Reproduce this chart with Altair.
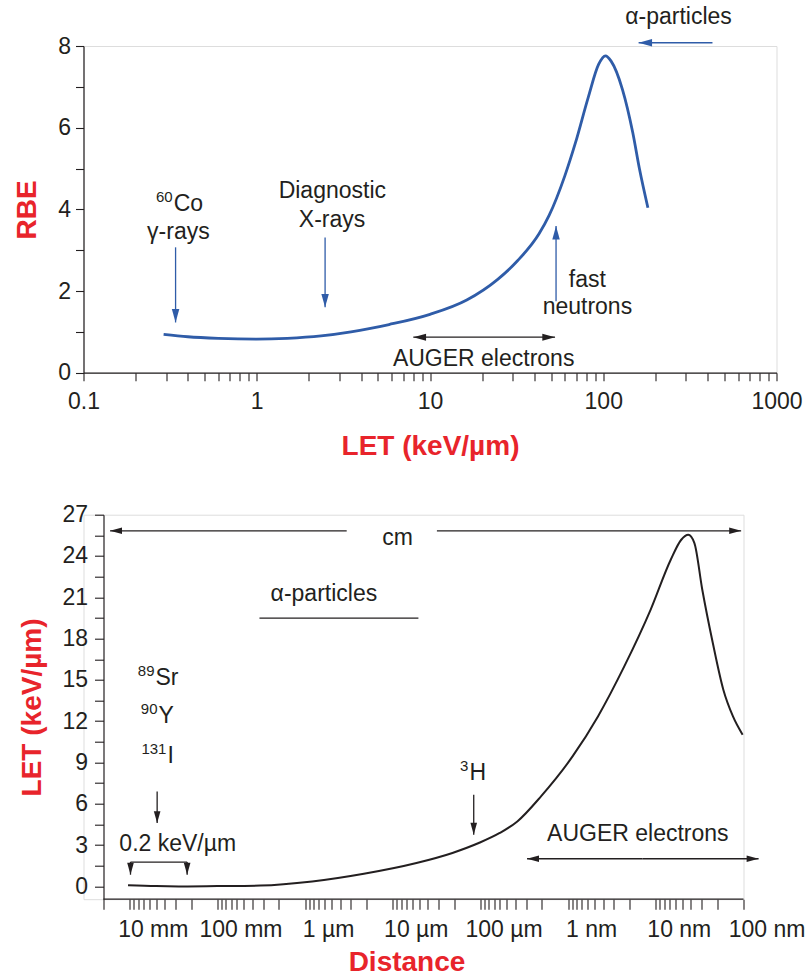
import json
import math
import altair as alt
import pandas as pd

FONT = "Liberation Sans, Arial, Helvetica, sans-serif"
INK = "#231f20"
RED = "#e8242b"
BLUE = "#2f5ca8"
HEAD = "M0,0L-1,-3.6L1,-3.6Z"

# ---------------- top panel: RBE vs LET ----------------
top_let = [0.29, 0.4, 0.6, 1.0, 1.5, 2.35, 3.5, 5.8, 10, 16.3, 24.5, 32, 42.6, 48.7,
           60, 69, 82, 94, 103, 111, 129, 148, 162, 181]
top_rbe = [0.94, 0.88, 0.84, 0.82, 0.84, 0.90, 1.0, 1.18, 1.43, 1.78, 2.28, 2.74, 3.4, 3.85,
           4.82, 5.62, 6.75, 7.55, 7.76, 7.63, 6.94, 5.88, 4.98, 4.04]

top_text = ["γ-rays", "Diagnostic", "X-rays", "fast", "neutrons", "AUGER electrons", "α-particles"]
top_text_x = [0.353, 2.73, 2.72, 81, 81, 20.4, 272]
top_text_y = [3.265, 4.27, 3.58, 2.11, 1.43, 0.16, 8.53]

top_iso = ["Co"]
top_iso_mass = ["60"]
top_iso_x = [0.327]
top_iso_y = [3.95]

# blue arrows (tail -> tip)
top_blue_x0 = [0.34, 2.48, 53.4, 427]
top_blue_y0 = [3.07, 3.31, 1.75, 8.08]
top_blue_x1 = [0.34, 2.48, 53.4, 160]
top_blue_y1 = [1.23, 1.6, 3.59, 8.08]
# black double arrow (AUGER electrons)
top_black_x0 = [20.5, 20.5]
top_black_y0 = [0.87, 0.87]
top_black_x1 = [8.01, 52.7]
top_black_y1 = [0.87, 0.87]

top_ticks = [m * 10.0 ** e for e in range(-1, 3) for m in range(1, 10)] + [1000.0]
top_yticks = [0, 1, 2, 3, 4, 5, 6, 7, 8]

# ---------------- bottom panel: LET vs distance ----------------
dist_labels = ["10 mm", "100 mm", "1 µm", "10 µm", "100 µm", "1 nm", "10 nm", "100 nm"]
bot_u = [-0.02, 0.3, 0.66, 1.0, 1.49, 2.08, 2.67, 3.27, 3.68, 3.98, 4.22, 4.42, 4.69, 5.05,
         5.34, 5.64, 5.94, 6.17, 6.29, 6.37, 6.44, 6.53, 6.65, 6.77, 6.88, 6.99]
bot_let = [0.08, 0.02, 0.0, 0.02, 0.06, 0.36, 0.92, 1.70, 2.43, 3.15, 3.88, 4.72, 6.54, 9.44,
           12.35, 15.98, 20.09, 23.73, 25.18, 25.54, 24.94, 21.55, 17.68, 14.29, 12.35, 11.02]

bot_text = ["cm", "α-particles", "0.2 keV/µm", "AUGER electrons"]
bot_text_x = [3.053, 2.214, 0.547, 5.795]
bot_text_y = [24.8, 20.7, 2.59, 3.27]

bot_iso = ["Sr", "Y", "I", "H"]
bot_iso_mass = ["89", "90", "131", "3"]
bot_iso_x = [0.282, 0.316, 0.418, 3.862]
bot_iso_y = [14.65, 11.87, 8.96, 7.75]

bot_arr_x0 = [2.474, 3.503, 0.312, 0.008, 0.654, 3.923, 5.85, 5.85]
bot_arr_y0 = [25.83, 25.83, 6.9, 1.77, 1.77, 6.66, 2.01, 2.01]
bot_arr_x1 = [-0.225, 6.973, 0.312, 0.008, 0.654, 3.923, 4.531, 7.172]
bot_arr_y1 = [25.83, 25.83, 4.6, 0.85, 0.85, 3.75, 2.01, 2.01]

bot_line_x0 = [1.479, 0.008]
bot_line_x1 = [3.292, 0.654]
bot_line_y = [19.49, 1.77]

bot_xmin, bot_xmax = -0.528, 7.0
bot_ymin, bot_ymax = -0.93, 27.0
bot_axis_start = -0.301
bot_ticks = sorted(set([float(k) for k in range(8)] +
                       [round(k - math.log10(n), 4) for k in range(8) for n in range(2, 10)
                        if k - math.log10(n) >= -0.31]))
bot_yticks = [i * 1.5 for i in range(19)]


def arrows_df(x0, y0, x1, y1):
    rows = []
    for a, b, c, d in zip(x0, y0, x1, y1):
        if a == c:
            ang = 0 if d < b else 180
        else:
            ang = 90 if c < a else 270
        rows.append(dict(x=a, y=b, x2=c, y2=d, ang=ang))
    return pd.DataFrame(rows)


axis_common = dict(grid=False, domainColor=INK, tickColor=INK, labelColor=INK,
                   labelFont=FONT, labelFontSize=23, titleFont=FONT, titleFontSize=28,
                   titleFontWeight="bold", titleColor=RED, labelFlush=False,
                   labelOverlap=False, titleBaseline="alphabetic", domainWidth=1.2,
                   tickWidth=1.1)
axis_notitle = {k: v for k, v in axis_common.items() if not k.startswith("title")}

# ---------- top chart ----------
TW, TH = 693, 326.7
xs_top = alt.Scale(type="log", domain=[0.1, 1000], nice=False)
ys_top = alt.Scale(domain=[0, 8], nice=False, zero=False)
ax_top_x = alt.Axis(
    values=top_ticks, tickSize=8, labelPadding=10, title="LET (keV/µm)", orient="bottom",
    labelExpr="abs(log(datum.value)/LN10 - round(log(datum.value)/LN10)) < 0.001 ? format(datum.value, '~g') : ''",
    titleX=TW / 2, titleY=81.7, titleAlign="center", **axis_common)
ax_top_y = alt.Axis(
    values=top_yticks, tickSize=8, labelPadding=5, title="RBE", orient="left",
    labelExpr="datum.value % 2 == 0 ? datum.label : ''",
    titleX=-48.5, titleY=TH / 2, titleAngle=270, titleAlign="center", **axis_common)


def TX(field):
    return alt.X(field, scale=xs_top, axis=ax_top_x)


def TY(field):
    return alt.Y(field, scale=ys_top, axis=ax_top_y)


top_curve = alt.Chart(pd.DataFrame({"x": top_let, "y": top_rbe})).mark_line(
    color=BLUE, strokeWidth=2.8, interpolate="monotone").encode(x=TX("x:Q"), y=TY("y:Q"))

top_texts = alt.Chart(pd.DataFrame({"x": top_text_x, "y": top_text_y, "t": top_text})).mark_text(
    font=FONT, fontSize=23, color=INK, align="center", baseline="alphabetic").encode(
    x=TX("x:Q"), y=TY("y:Q"), text="t:N")

iso_top_df = pd.DataFrame({"x": top_iso_x, "y": top_iso_y, "t": top_iso, "m": top_iso_mass})
top_iso_main = alt.Chart(iso_top_df).mark_text(
    font=FONT, fontSize=23, color=INK, align="left", baseline="alphabetic", dx=1).encode(
    x=TX("x:Q"), y=TY("y:Q"), text="t:N")
top_iso_sup = alt.Chart(iso_top_df).mark_text(
    font=FONT, fontSize=15, color=INK, align="right", baseline="alphabetic", dy=-9).encode(
    x=TX("x:Q"), y=TY("y:Q"), text="m:N")

tb = arrows_df(top_blue_x0, top_blue_y0, top_blue_x1, top_blue_y1)
tk = arrows_df(top_black_x0, top_black_y0, top_black_x1, top_black_y1)


def arrow_layers(df, color, XF, YF, size, width):
    base = alt.Chart(df)
    rule = base.mark_rule(color=color, strokeWidth=width).encode(
        x=XF("x:Q"), x2="x2:Q", y=YF("y:Q"), y2="y2:Q")
    head = base.mark_point(shape=HEAD, filled=True, size=size, color=color, opacity=1,
                           strokeWidth=0).encode(
        x=XF("x2:Q"), y=YF("y2:Q"), angle=alt.Angle("ang:Q", scale=None))
    return [rule, head]


top = alt.layer(top_curve, top_texts, top_iso_main, top_iso_sup,
                *arrow_layers(tb, BLUE, TX, TY, 56, 1.3),
                *arrow_layers(tk, INK, TX, TY, 50, 1.3)).properties(width=TW, height=TH)

# ---------- bottom chart ----------
BW, BH = 660, 384.5
xs_bot = alt.Scale(domain=[bot_xmin, bot_xmax], nice=False, zero=False)
ys_bot = alt.Scale(domain=[bot_ymin, bot_ymax], nice=False, zero=False)
ax_bot_y = alt.Axis(
    values=bot_yticks, tickSize=9, labelPadding=7, offset=-20, title="LET (keV/µm)", orient="left",
    labelExpr="datum.value % 3 == 0 ? datum.label : ''",
    titleX=-63.5, titleY=BH / 2, titleAngle=270, titleAlign="center", **axis_common)
ax_bot_ticks = alt.Axis(values=bot_ticks, labels=False, domain=False, tickSize=10, title=None,
                        orient="bottom", **axis_notitle)
ax_bot_labels = alt.Axis(
    values=list(range(8)), ticks=False, tickSize=0, domain=False, labelPadding=19,
    labelOffset=23, title="Distance", orient="bottom",
    labelExpr=json.dumps(dist_labels, ensure_ascii=False) + "[datum.value]",
    titleX=BW / 2 - 7, titleY=71, titleAlign="center", **axis_common)


def BX(field):
    return alt.X(field, scale=xs_bot, axis=None)


def BY(field):
    return alt.Y(field, scale=ys_bot, axis=ax_bot_y)


bot_curve = alt.Chart(pd.DataFrame({"x": bot_u, "y": bot_let})).mark_line(
    color=INK, strokeWidth=2.0, interpolate="monotone").encode(
    x=alt.X("x:Q", scale=xs_bot, axis=ax_bot_ticks), y=BY("y:Q"))

bot_texts = alt.Chart(pd.DataFrame({"x": bot_text_x, "y": bot_text_y, "t": bot_text})).mark_text(
    font=FONT, fontSize=23, color=INK, align="center", baseline="alphabetic").encode(
    x=alt.X("x:Q", scale=xs_bot, axis=ax_bot_labels), y=BY("y:Q"), text="t:N")

iso_bot_df = pd.DataFrame({"x": bot_iso_x, "y": bot_iso_y, "t": bot_iso, "m": bot_iso_mass})
bot_iso_main = alt.Chart(iso_bot_df).mark_text(
    font=FONT, fontSize=23, color=INK, align="left", baseline="alphabetic", dx=1).encode(
    x=BX("x:Q"), y=BY("y:Q"), text="t:N")
bot_iso_sup = alt.Chart(iso_bot_df).mark_text(
    font=FONT, fontSize=15, color=INK, align="right", baseline="alphabetic", dy=-9).encode(
    x=BX("x:Q"), y=BY("y:Q"), text="m:N")

ba = arrows_df(bot_arr_x0, bot_arr_y0, bot_arr_x1, bot_arr_y1)
bot_lines = alt.Chart(pd.DataFrame({"x": bot_line_x0, "x2": bot_line_x1, "y": bot_line_y})).mark_rule(
    color=INK, strokeWidth=1.3).encode(x=BX("x:Q"), x2="x2:Q", y=BY("y:Q"))
bot_baseline = alt.Chart(pd.DataFrame({"x": [bot_axis_start], "x2": [bot_xmax], "y": [bot_ymin]})).mark_rule(
    color=INK, strokeWidth=1.2).encode(x=BX("x:Q"), x2="x2:Q", y=BY("y:Q"))

bottom = alt.layer(bot_curve, bot_texts, bot_iso_main, bot_iso_sup, bot_lines, bot_baseline,
                   *arrow_layers(ba, INK, BX, BY, 44, 1.3)).resolve_axis(
    x="independent").properties(width=BW, height=BH)

chart = alt.vconcat(top, bottom, spacing=141.7, bounds="flush").properties(
    padding={"left": 12.5, "top": 5, "right": 5, "bottom": 3}
).configure_view(strokeWidth=0).configure(font=FONT, background="white")

chart.save("out.html", embed_options={"renderer": "svg", "actions": False})
